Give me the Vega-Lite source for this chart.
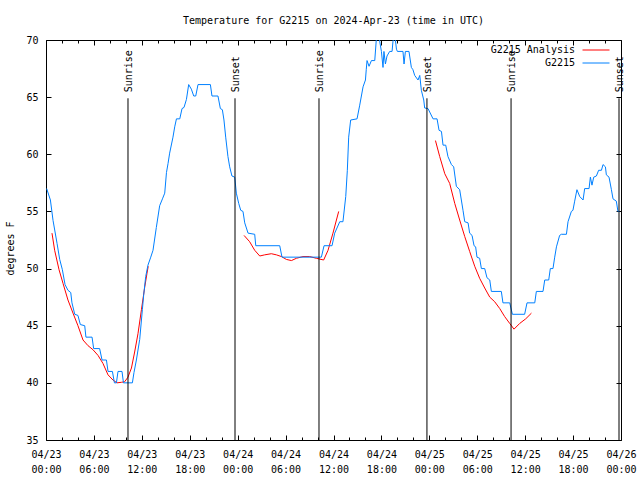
{
  "$schema": "https://vega.github.io/schema/vega-lite/v6.json",
  "width": 575,
  "height": 400,
  "autosize": {"type": "none"},
  "padding": {"left": 46, "top": 40, "right": 19, "bottom": 40},
  "background": "white",
  "view": {"stroke": "black", "strokeWidth": 1},
  "config": {
    "font": "DejaVu Sans Mono",
    "axis": {"labelFont": "DejaVu Sans Mono", "labelFontSize": 10, "labelColor": "black", "tickColor": "black", "domain": false, "grid": false, "titleFont": "DejaVu Sans Mono", "titleFontSize": 10, "titleFontWeight": "normal", "titleColor": "black"},
    "legend": {"labelFont": "DejaVu Sans Mono", "labelFontSize": 10, "labelColor": "black"}
  },
  "title": {"text": "Temperature for G2215 on 2024-Apr-23 (time in UTC)", "font": "DejaVu Sans Mono", "fontSize": 10, "fontWeight": "normal", "color": "black", "anchor": "middle", "frame": "group", "baseline": "alphabetic", "offset": 1},
  "datasets": {
    "obs": [
      {"s":"G2215","g":0,"t":"2024-04-23T00:05Z","v":57},
      {"s":"G2215","g":0,"t":"2024-04-23T00:33Z","v":56},
      {"s":"G2215","g":0,"t":"2024-04-23T00:53Z","v":54.2},
      {"s":"G2215","g":0,"t":"2024-04-23T01:23Z","v":52.2},
      {"s":"G2215","g":0,"t":"2024-04-23T01:43Z","v":50.8},
      {"s":"G2215","g":0,"t":"2024-04-23T02:03Z","v":49.9},
      {"s":"G2215","g":0,"t":"2024-04-23T02:23Z","v":48.6},
      {"s":"G2215","g":0,"t":"2024-04-23T02:45Z","v":48.1},
      {"s":"G2215","g":0,"t":"2024-04-23T03:06Z","v":47.9},
      {"s":"G2215","g":0,"t":"2024-04-23T03:15Z","v":47},
      {"s":"G2215","g":0,"t":"2024-04-23T03:36Z","v":46},
      {"s":"G2215","g":0,"t":"2024-04-23T04:00Z","v":45.9},
      {"s":"G2215","g":0,"t":"2024-04-23T04:18Z","v":45.1},
      {"s":"G2215","g":0,"t":"2024-04-23T04:51Z","v":45},
      {"s":"G2215","g":0,"t":"2024-04-23T05:00Z","v":44},
      {"s":"G2215","g":0,"t":"2024-04-23T05:46Z","v":44},
      {"s":"G2215","g":0,"t":"2024-04-23T05:58Z","v":43},
      {"s":"G2215","g":0,"t":"2024-04-23T06:43Z","v":43},
      {"s":"G2215","g":0,"t":"2024-04-23T07:01Z","v":42},
      {"s":"G2215","g":0,"t":"2024-04-23T07:34Z","v":42},
      {"s":"G2215","g":0,"t":"2024-04-23T07:46Z","v":41},
      {"s":"G2215","g":0,"t":"2024-04-23T08:19Z","v":41},
      {"s":"G2215","g":0,"t":"2024-04-23T08:34Z","v":40},
      {"s":"G2215","g":0,"t":"2024-04-23T08:49Z","v":40},
      {"s":"G2215","g":0,"t":"2024-04-23T09:01Z","v":41},
      {"s":"G2215","g":0,"t":"2024-04-23T09:31Z","v":41},
      {"s":"G2215","g":0,"t":"2024-04-23T09:42Z","v":40},
      {"s":"G2215","g":0,"t":"2024-04-23T10:49Z","v":40},
      {"s":"G2215","g":0,"t":"2024-04-23T11:01Z","v":40.9},
      {"s":"G2215","g":0,"t":"2024-04-23T11:19Z","v":42},
      {"s":"G2215","g":0,"t":"2024-04-23T11:44Z","v":43.8},
      {"s":"G2215","g":0,"t":"2024-04-23T12:04Z","v":46.4},
      {"s":"G2215","g":0,"t":"2024-04-23T12:14Z","v":47.7},
      {"s":"G2215","g":0,"t":"2024-04-23T12:29Z","v":49.3},
      {"s":"G2215","g":0,"t":"2024-04-23T12:46Z","v":50.3},
      {"s":"G2215","g":0,"t":"2024-04-23T13:07Z","v":51},
      {"s":"G2215","g":0,"t":"2024-04-23T13:24Z","v":51.6},
      {"s":"G2215","g":0,"t":"2024-04-23T13:49Z","v":53.6},
      {"s":"G2215","g":0,"t":"2024-04-23T14:14Z","v":55.5},
      {"s":"G2215","g":0,"t":"2024-04-23T14:35Z","v":56.1},
      {"s":"G2215","g":0,"t":"2024-04-23T14:52Z","v":56.6},
      {"s":"G2215","g":0,"t":"2024-04-23T15:05Z","v":58.4},
      {"s":"G2215","g":0,"t":"2024-04-23T15:17Z","v":59.2},
      {"s":"G2215","g":0,"t":"2024-04-23T15:29Z","v":60.1},
      {"s":"G2215","g":0,"t":"2024-04-23T15:54Z","v":61.5},
      {"s":"G2215","g":0,"t":"2024-04-23T16:07Z","v":62.4},
      {"s":"G2215","g":0,"t":"2024-04-23T16:20Z","v":63.1},
      {"s":"G2215","g":0,"t":"2024-04-23T16:45Z","v":63.1},
      {"s":"G2215","g":0,"t":"2024-04-23T17:02Z","v":64},
      {"s":"G2215","g":0,"t":"2024-04-23T17:17Z","v":64.1},
      {"s":"G2215","g":0,"t":"2024-04-23T17:35Z","v":64.8},
      {"s":"G2215","g":0,"t":"2024-04-23T17:52Z","v":66.1},
      {"s":"G2215","g":0,"t":"2024-04-23T18:12Z","v":65.7},
      {"s":"G2215","g":0,"t":"2024-04-23T18:30Z","v":65.1},
      {"s":"G2215","g":0,"t":"2024-04-23T18:45Z","v":65.1},
      {"s":"G2215","g":0,"t":"2024-04-23T19:02Z","v":66.1},
      {"s":"G2215","g":0,"t":"2024-04-23T20:35Z","v":66.1},
      {"s":"G2215","g":0,"t":"2024-04-23T20:47Z","v":65.1},
      {"s":"G2215","g":0,"t":"2024-04-23T21:32Z","v":65.1},
      {"s":"G2215","g":0,"t":"2024-04-23T21:50Z","v":64},
      {"s":"G2215","g":0,"t":"2024-04-23T22:05Z","v":63.9},
      {"s":"G2215","g":0,"t":"2024-04-23T22:17Z","v":63},
      {"s":"G2215","g":0,"t":"2024-04-23T22:30Z","v":61.5},
      {"s":"G2215","g":0,"t":"2024-04-23T22:47Z","v":59.8},
      {"s":"G2215","g":0,"t":"2024-04-23T23:00Z","v":58.9},
      {"s":"G2215","g":0,"t":"2024-04-23T23:17Z","v":58.1},
      {"s":"G2215","g":0,"t":"2024-04-23T23:38Z","v":58},
      {"s":"G2215","g":0,"t":"2024-04-23T23:50Z","v":56.6},
      {"s":"G2215","g":0,"t":"2024-04-24T00:08Z","v":55.7},
      {"s":"G2215","g":0,"t":"2024-04-24T00:23Z","v":55.1},
      {"s":"G2215","g":0,"t":"2024-04-24T00:40Z","v":55},
      {"s":"G2215","g":0,"t":"2024-04-24T00:53Z","v":54},
      {"s":"G2215","g":0,"t":"2024-04-24T01:18Z","v":53.1},
      {"s":"G2215","g":0,"t":"2024-04-24T02:08Z","v":53},
      {"s":"G2215","g":0,"t":"2024-04-24T02:16Z","v":52},
      {"s":"G2215","g":0,"t":"2024-04-24T05:16Z","v":52},
      {"s":"G2215","g":0,"t":"2024-04-24T05:33Z","v":51},
      {"s":"G2215","g":0,"t":"2024-04-24T10:29Z","v":51},
      {"s":"G2215","g":0,"t":"2024-04-24T10:49Z","v":52},
      {"s":"G2215","g":0,"t":"2024-04-24T11:49Z","v":52},
      {"s":"G2215","g":0,"t":"2024-04-24T12:09Z","v":53.1},
      {"s":"G2215","g":0,"t":"2024-04-24T12:47Z","v":54.1},
      {"s":"G2215","g":0,"t":"2024-04-24T13:11Z","v":54.1},
      {"s":"G2215","g":0,"t":"2024-04-24T13:32Z","v":56.3},
      {"s":"G2215","g":0,"t":"2024-04-24T13:44Z","v":58.6},
      {"s":"G2215","g":0,"t":"2024-04-24T13:54Z","v":61.5},
      {"s":"G2215","g":0,"t":"2024-04-24T14:09Z","v":63},
      {"s":"G2215","g":0,"t":"2024-04-24T14:57Z","v":63.1},
      {"s":"G2215","g":0,"t":"2024-04-24T15:17Z","v":64.3},
      {"s":"G2215","g":0,"t":"2024-04-24T15:42Z","v":65.9},
      {"s":"G2215","g":0,"t":"2024-04-24T16:00Z","v":66.5},
      {"s":"G2215","g":0,"t":"2024-04-24T16:06Z","v":67.4},
      {"s":"G2215","g":0,"t":"2024-04-24T16:12Z","v":68.2},
      {"s":"G2215","g":0,"t":"2024-04-24T16:27Z","v":67.7},
      {"s":"G2215","g":0,"t":"2024-04-24T16:45Z","v":68.2},
      {"s":"G2215","g":0,"t":"2024-04-24T17:10Z","v":68.2},
      {"s":"G2215","g":0,"t":"2024-04-24T17:22Z","v":70.1},
      {"s":"G2215","g":0,"t":"2024-04-24T17:34Z","v":71},
      {"s":"G2215","g":0,"t":"2024-04-24T17:47Z","v":69.9},
      {"s":"G2215","g":0,"t":"2024-04-24T18:00Z","v":69},
      {"s":"G2215","g":0,"t":"2024-04-24T18:12Z","v":67.6},
      {"s":"G2215","g":0,"t":"2024-04-24T18:19Z","v":69},
      {"s":"G2215","g":0,"t":"2024-04-24T18:30Z","v":67.9},
      {"s":"G2215","g":0,"t":"2024-04-24T18:42Z","v":68.6},
      {"s":"G2215","g":0,"t":"2024-04-24T19:02Z","v":69},
      {"s":"G2215","g":0,"t":"2024-04-24T19:20Z","v":69},
      {"s":"G2215","g":0,"t":"2024-04-24T19:27Z","v":69.9},
      {"s":"G2215","g":0,"t":"2024-04-24T19:40Z","v":70.5},
      {"s":"G2215","g":0,"t":"2024-04-24T19:53Z","v":69.2},
      {"s":"G2215","g":0,"t":"2024-04-24T20:00Z","v":69},
      {"s":"G2215","g":0,"t":"2024-04-24T20:42Z","v":69},
      {"s":"G2215","g":0,"t":"2024-04-24T20:50Z","v":67.9},
      {"s":"G2215","g":0,"t":"2024-04-24T21:00Z","v":69},
      {"s":"G2215","g":0,"t":"2024-04-24T21:27Z","v":69},
      {"s":"G2215","g":0,"t":"2024-04-24T21:45Z","v":67.6},
      {"s":"G2215","g":0,"t":"2024-04-24T21:57Z","v":67.4},
      {"s":"G2215","g":0,"t":"2024-04-24T22:10Z","v":66.9},
      {"s":"G2215","g":0,"t":"2024-04-24T22:35Z","v":66.5},
      {"s":"G2215","g":0,"t":"2024-04-24T22:48Z","v":66.9},
      {"s":"G2215","g":0,"t":"2024-04-24T23:00Z","v":65.6},
      {"s":"G2215","g":0,"t":"2024-04-24T23:18Z","v":64.75},
      {"s":"G2215","g":0,"t":"2024-04-24T23:25Z","v":64.05},
      {"s":"G2215","g":0,"t":"2024-04-24T23:50Z","v":64},
      {"s":"G2215","g":0,"t":"2024-04-25T00:28Z","v":63.1},
      {"s":"G2215","g":0,"t":"2024-04-25T00:58Z","v":63.1},
      {"s":"G2215","g":0,"t":"2024-04-25T01:13Z","v":62.1},
      {"s":"G2215","g":0,"t":"2024-04-25T01:31Z","v":62},
      {"s":"G2215","g":0,"t":"2024-04-25T01:43Z","v":60.8},
      {"s":"G2215","g":0,"t":"2024-04-25T02:03Z","v":60.8},
      {"s":"G2215","g":0,"t":"2024-04-25T02:20Z","v":59.8},
      {"s":"G2215","g":0,"t":"2024-04-25T02:46Z","v":59.1},
      {"s":"G2215","g":0,"t":"2024-04-25T03:03Z","v":58.9},
      {"s":"G2215","g":0,"t":"2024-04-25T03:23Z","v":57.2},
      {"s":"G2215","g":0,"t":"2024-04-25T03:48Z","v":56.9},
      {"s":"G2215","g":0,"t":"2024-04-25T04:13Z","v":55.1},
      {"s":"G2215","g":0,"t":"2024-04-25T04:26Z","v":54.1},
      {"s":"G2215","g":0,"t":"2024-04-25T04:51Z","v":54},
      {"s":"G2215","g":0,"t":"2024-04-25T05:03Z","v":53.1},
      {"s":"G2215","g":0,"t":"2024-04-25T05:21Z","v":52.9},
      {"s":"G2215","g":0,"t":"2024-04-25T05:36Z","v":52},
      {"s":"G2215","g":0,"t":"2024-04-25T05:48Z","v":51.9},
      {"s":"G2215","g":0,"t":"2024-04-25T05:58Z","v":51},
      {"s":"G2215","g":0,"t":"2024-04-25T06:18Z","v":50.9},
      {"s":"G2215","g":0,"t":"2024-04-25T06:31Z","v":50},
      {"s":"G2215","g":0,"t":"2024-04-25T06:56Z","v":50},
      {"s":"G2215","g":0,"t":"2024-04-25T07:13Z","v":49.2},
      {"s":"G2215","g":0,"t":"2024-04-25T07:34Z","v":49},
      {"s":"G2215","g":0,"t":"2024-04-25T07:46Z","v":48},
      {"s":"G2215","g":0,"t":"2024-04-25T09:01Z","v":48},
      {"s":"G2215","g":0,"t":"2024-04-25T09:13Z","v":47},
      {"s":"G2215","g":0,"t":"2024-04-25T10:04Z","v":47},
      {"s":"G2215","g":0,"t":"2024-04-25T10:24Z","v":46},
      {"s":"G2215","g":0,"t":"2024-04-25T11:56Z","v":46},
      {"s":"G2215","g":0,"t":"2024-04-25T12:14Z","v":47},
      {"s":"G2215","g":0,"t":"2024-04-25T13:12Z","v":47},
      {"s":"G2215","g":0,"t":"2024-04-25T13:24Z","v":48},
      {"s":"G2215","g":0,"t":"2024-04-25T14:14Z","v":48},
      {"s":"G2215","g":0,"t":"2024-04-25T14:27Z","v":49},
      {"s":"G2215","g":0,"t":"2024-04-25T14:57Z","v":49},
      {"s":"G2215","g":0,"t":"2024-04-25T15:09Z","v":50},
      {"s":"G2215","g":0,"t":"2024-04-25T15:29Z","v":50},
      {"s":"G2215","g":0,"t":"2024-04-25T15:42Z","v":51},
      {"s":"G2215","g":0,"t":"2024-04-25T15:55Z","v":51.9},
      {"s":"G2215","g":0,"t":"2024-04-25T16:19Z","v":52.9},
      {"s":"G2215","g":0,"t":"2024-04-25T16:32Z","v":53},
      {"s":"G2215","g":0,"t":"2024-04-25T17:10Z","v":53},
      {"s":"G2215","g":0,"t":"2024-04-25T17:22Z","v":54.1},
      {"s":"G2215","g":0,"t":"2024-04-25T17:47Z","v":55},
      {"s":"G2215","g":0,"t":"2024-04-25T17:59Z","v":55.1},
      {"s":"G2215","g":0,"t":"2024-04-25T18:12Z","v":55.9},
      {"s":"G2215","g":0,"t":"2024-04-25T18:29Z","v":56.9},
      {"s":"G2215","g":0,"t":"2024-04-25T18:50Z","v":56.3},
      {"s":"G2215","g":0,"t":"2024-04-25T19:15Z","v":56},
      {"s":"G2215","g":0,"t":"2024-04-25T19:27Z","v":57},
      {"s":"G2215","g":0,"t":"2024-04-25T20:00Z","v":57},
      {"s":"G2215","g":0,"t":"2024-04-25T20:10Z","v":58},
      {"s":"G2215","g":0,"t":"2024-04-25T20:22Z","v":57.3},
      {"s":"G2215","g":0,"t":"2024-04-25T20:35Z","v":58},
      {"s":"G2215","g":0,"t":"2024-04-25T20:55Z","v":58.1},
      {"s":"G2215","g":0,"t":"2024-04-25T21:12Z","v":58.6},
      {"s":"G2215","g":0,"t":"2024-04-25T21:33Z","v":58.6},
      {"s":"G2215","g":0,"t":"2024-04-25T21:45Z","v":59.1},
      {"s":"G2215","g":0,"t":"2024-04-25T22:03Z","v":58.9},
      {"s":"G2215","g":0,"t":"2024-04-25T22:10Z","v":58.2},
      {"s":"G2215","g":0,"t":"2024-04-25T22:30Z","v":58},
      {"s":"G2215","g":0,"t":"2024-04-25T22:48Z","v":56.9},
      {"s":"G2215","g":0,"t":"2024-04-25T23:00Z","v":56.1},
      {"s":"G2215","g":0,"t":"2024-04-25T23:25Z","v":55.9},
      {"s":"G2215","g":0,"t":"2024-04-25T23:37Z","v":55},
      {"s":"G2215","g":0,"t":"2024-04-25T23:50Z","v":55},
      {"s":"G2215 Analysis","g":1,"t":"2024-04-23T00:45Z","v":53.1},
      {"s":"G2215 Analysis","g":1,"t":"2024-04-23T01:05Z","v":51.6},
      {"s":"G2215 Analysis","g":1,"t":"2024-04-23T01:38Z","v":49.9},
      {"s":"G2215 Analysis","g":1,"t":"2024-04-23T02:08Z","v":48.7},
      {"s":"G2215 Analysis","g":1,"t":"2024-04-23T02:45Z","v":47.25},
      {"s":"G2215 Analysis","g":1,"t":"2024-04-23T03:23Z","v":46.1},
      {"s":"G2215 Analysis","g":1,"t":"2024-04-23T04:00Z","v":45},
      {"s":"G2215 Analysis","g":1,"t":"2024-04-23T04:38Z","v":43.75},
      {"s":"G2215 Analysis","g":1,"t":"2024-04-23T05:16Z","v":43.25},
      {"s":"G2215 Analysis","g":1,"t":"2024-04-23T05:53Z","v":42.9},
      {"s":"G2215 Analysis","g":1,"t":"2024-04-23T06:31Z","v":42.4},
      {"s":"G2215 Analysis","g":1,"t":"2024-04-23T07:08Z","v":41.7},
      {"s":"G2215 Analysis","g":1,"t":"2024-04-23T07:46Z","v":40.7},
      {"s":"G2215 Analysis","g":1,"t":"2024-04-23T08:23Z","v":40.25},
      {"s":"G2215 Analysis","g":1,"t":"2024-04-23T08:53Z","v":40},
      {"s":"G2215 Analysis","g":1,"t":"2024-04-23T09:27Z","v":40.05},
      {"s":"G2215 Analysis","g":1,"t":"2024-04-23T09:51Z","v":40.1},
      {"s":"G2215 Analysis","g":1,"t":"2024-04-23T10:16Z","v":40.5},
      {"s":"G2215 Analysis","g":1,"t":"2024-04-23T10:42Z","v":41.3},
      {"s":"G2215 Analysis","g":1,"t":"2024-04-23T11:06Z","v":42.7},
      {"s":"G2215 Analysis","g":1,"t":"2024-04-23T11:31Z","v":44.3},
      {"s":"G2215 Analysis","g":1,"t":"2024-04-23T11:57Z","v":46.4},
      {"s":"G2215 Analysis","g":1,"t":"2024-04-23T12:22Z","v":48.4},
      {"s":"G2215 Analysis","g":1,"t":"2024-04-23T12:39Z","v":49.6},
      {"s":"G2215 Analysis","g":1,"t":"2024-04-23T12:48Z","v":50.2},
      {"s":"G2215 Analysis","g":2,"t":"2024-04-24T00:48Z","v":52.9},
      {"s":"G2215 Analysis","g":2,"t":"2024-04-24T01:30Z","v":52.35},
      {"s":"G2215 Analysis","g":2,"t":"2024-04-24T02:08Z","v":51.6},
      {"s":"G2215 Analysis","g":2,"t":"2024-04-24T02:46Z","v":51.1},
      {"s":"G2215 Analysis","g":2,"t":"2024-04-24T03:23Z","v":51.2},
      {"s":"G2215 Analysis","g":2,"t":"2024-04-24T04:13Z","v":51.3},
      {"s":"G2215 Analysis","g":2,"t":"2024-04-24T04:51Z","v":51.2},
      {"s":"G2215 Analysis","g":2,"t":"2024-04-24T05:29Z","v":51.05},
      {"s":"G2215 Analysis","g":2,"t":"2024-04-24T06:06Z","v":50.8},
      {"s":"G2215 Analysis","g":2,"t":"2024-04-24T06:44Z","v":50.7},
      {"s":"G2215 Analysis","g":2,"t":"2024-04-24T07:21Z","v":50.9},
      {"s":"G2215 Analysis","g":2,"t":"2024-04-24T08:11Z","v":51.05},
      {"s":"G2215 Analysis","g":2,"t":"2024-04-24T09:01Z","v":51.05},
      {"s":"G2215 Analysis","g":2,"t":"2024-04-24T09:51Z","v":50.9},
      {"s":"G2215 Analysis","g":2,"t":"2024-04-24T10:46Z","v":50.75},
      {"s":"G2215 Analysis","g":2,"t":"2024-04-24T11:19Z","v":51.6},
      {"s":"G2215 Analysis","g":2,"t":"2024-04-24T11:56Z","v":53.1},
      {"s":"G2215 Analysis","g":2,"t":"2024-04-24T12:22Z","v":54.25},
      {"s":"G2215 Analysis","g":2,"t":"2024-04-24T12:39Z","v":55},
      {"s":"G2215 Analysis","g":3,"t":"2024-04-25T00:46Z","v":61.2},
      {"s":"G2215 Analysis","g":3,"t":"2024-04-25T01:18Z","v":59.8},
      {"s":"G2215 Analysis","g":3,"t":"2024-04-25T01:56Z","v":58.3},
      {"s":"G2215 Analysis","g":3,"t":"2024-04-25T02:33Z","v":57.45},
      {"s":"G2215 Analysis","g":3,"t":"2024-04-25T03:11Z","v":55.7},
      {"s":"G2215 Analysis","g":3,"t":"2024-04-25T03:48Z","v":54.25},
      {"s":"G2215 Analysis","g":3,"t":"2024-04-25T04:26Z","v":52.8},
      {"s":"G2215 Analysis","g":3,"t":"2024-04-25T05:03Z","v":51.5},
      {"s":"G2215 Analysis","g":3,"t":"2024-04-25T05:41Z","v":50.2},
      {"s":"G2215 Analysis","g":3,"t":"2024-04-25T06:18Z","v":49.15},
      {"s":"G2215 Analysis","g":3,"t":"2024-04-25T06:56Z","v":48.3},
      {"s":"G2215 Analysis","g":3,"t":"2024-04-25T07:34Z","v":47.5},
      {"s":"G2215 Analysis","g":3,"t":"2024-04-25T08:11Z","v":47.1},
      {"s":"G2215 Analysis","g":3,"t":"2024-04-25T08:49Z","v":46.5},
      {"s":"G2215 Analysis","g":3,"t":"2024-04-25T09:26Z","v":45.8},
      {"s":"G2215 Analysis","g":3,"t":"2024-04-25T10:04Z","v":45.2},
      {"s":"G2215 Analysis","g":3,"t":"2024-04-25T10:36Z","v":44.7},
      {"s":"G2215 Analysis","g":3,"t":"2024-04-25T11:19Z","v":45.2},
      {"s":"G2215 Analysis","g":3,"t":"2024-04-25T12:04Z","v":45.6},
      {"s":"G2215 Analysis","g":3,"t":"2024-04-25T12:47Z","v":46.1}
    ],
    "sun": [
      {"t":"2024-04-23T10:16Z","e":"Sunrise"},
      {"t":"2024-04-23T23:40Z","e":"Sunset"},
      {"t":"2024-04-24T10:11Z","e":"Sunrise"},
      {"t":"2024-04-24T23:42Z","e":"Sunset"},
      {"t":"2024-04-25T10:14Z","e":"Sunrise"},
      {"t":"2024-04-25T23:45Z","e":"Sunset"}
    ]
  },
  "layer": [
    {
      "data": {"name": "obs"},
      "transform": [{"filter": "datum.s == 'G2215 Analysis'"}],
      "mark": {"type": "line", "strokeWidth": 1, "clip": true},
      "encoding": {
        "x": {"field": "t", "type": "temporal",
              "scale": {"type": "utc", "domain": [1713830400000, 1714089600000], "nice": false},
              "axis": {"orient": "top", "labels": false, "title": null, "tickSize": -5,
                       "values": [1713830400000,1713837600000,1713844800000,1713852000000,1713859200000,1713866400000,1713873600000,1713880800000,1713888000000,1713895200000,1713902400000,1713909600000,1713916800000,1713924000000,1713931200000,1713938400000,1713945600000,1713952800000,1713960000000,1713967200000,1713974400000,1713981600000,1713988800000,1713996000000,1714003200000,1714010400000,1714017600000,1714024800000,1714032000000,1714039200000,1714046400000,1714053600000,1714060800000,1714068000000,1714075200000,1714082400000,1714089600000],
                       "tickDash": {"condition": {"test": "utchours(datum.value) % 6 == 0", "value": [8, 1]}, "value": [3, 8]}}},
        "y": {"field": "v", "type": "quantitative",
              "scale": {"domain": [35, 70], "nice": false, "zero": false},
              "axis": {"orient": "right", "labels": false, "title": null, "values": [35, 40, 45, 50, 55, 60, 65, 70], "tickSize": -5}},
        "color": {"field": "s", "type": "nominal",
                  "scale": {"domain": ["G2215 Analysis", "G2215"], "range": ["#ff0000", "#0080ff"]},
                  "legend": {"orient": "none", "legendX": 545, "legendY": 5, "title": null, "symbolType": "M-3,0H3", "symbolSize": 81, "symbolStrokeWidth": 1, "labelAlign": "right", "labelOffset": -26, "padding": 0, "rowPadding": 3}},
        "detail": {"field": "g", "type": "nominal"}
      }
    },
    {
      "data": {"name": "obs"},
      "transform": [{"filter": "datum.s == 'G2215'"}],
      "mark": {"type": "line", "strokeWidth": 1, "clip": true},
      "encoding": {
        "x": {"field": "t", "type": "temporal",
              "axis": {"orient": "bottom", "title": null, "tickSize": -5,
                       "values": [1713830400000,1713837600000,1713844800000,1713852000000,1713859200000,1713866400000,1713873600000,1713880800000,1713888000000,1713895200000,1713902400000,1713909600000,1713916800000,1713924000000,1713931200000,1713938400000,1713945600000,1713952800000,1713960000000,1713967200000,1713974400000,1713981600000,1713988800000,1713996000000,1714003200000,1714010400000,1714017600000,1714024800000,1714032000000,1714039200000,1714046400000,1714053600000,1714060800000,1714068000000,1714075200000,1714082400000,1714089600000],
                       "tickDash": {"condition": {"test": "utchours(datum.value) % 6 == 0", "value": [8, 1]}, "value": [3, 8]},
                       "labelExpr": "utchours(datum.value) % 6 == 0 ? [utcFormat(datum.value, '%m/%d'), utcFormat(datum.value, '%H:%M')] : ''",
                       "labelPadding": 14, "labelBaseline": "top", "labelLineHeight": 15, "labelFlush": false, "labelOverlap": false, "labelBound": false}},
        "y": {"field": "v", "type": "quantitative",
              "axis": {"orient": "left", "title": "degrees F", "values": [35, 40, 45, 50, 55, 60, 65, 70], "tickSize": -5, "labelPadding": 13,
                       "titleX": -36, "titleY": 208, "titleAngle": 270, "titleAlign": "center", "titleBaseline": "middle"}},
        "color": {"field": "s", "type": "nominal"},
        "detail": {"field": "g", "type": "nominal"}
      }
    },
    {
      "data": {"name": "sun"},
      "mark": {"type": "rule", "color": "black", "strokeWidth": 1},
      "encoding": {
        "x": {"field": "t", "type": "temporal", "axis": null},
        "y": {"datum": 64.9, "axis": null},
        "y2": {"datum": 35}
      }
    },
    {
      "data": {"name": "sun"},
      "mark": {"type": "text", "angle": 270, "align": "left", "baseline": "middle", "dx": 6, "dy": 1, "font": "DejaVu Sans Mono", "fontSize": 10, "color": "black"},
      "encoding": {
        "x": {"field": "t", "type": "temporal", "axis": null},
        "y": {"datum": 64.9, "axis": null},
        "text": {"field": "e"}
      }
    }
  ],
  "resolve": {"axis": {"x": "independent", "y": "independent"}}
}
